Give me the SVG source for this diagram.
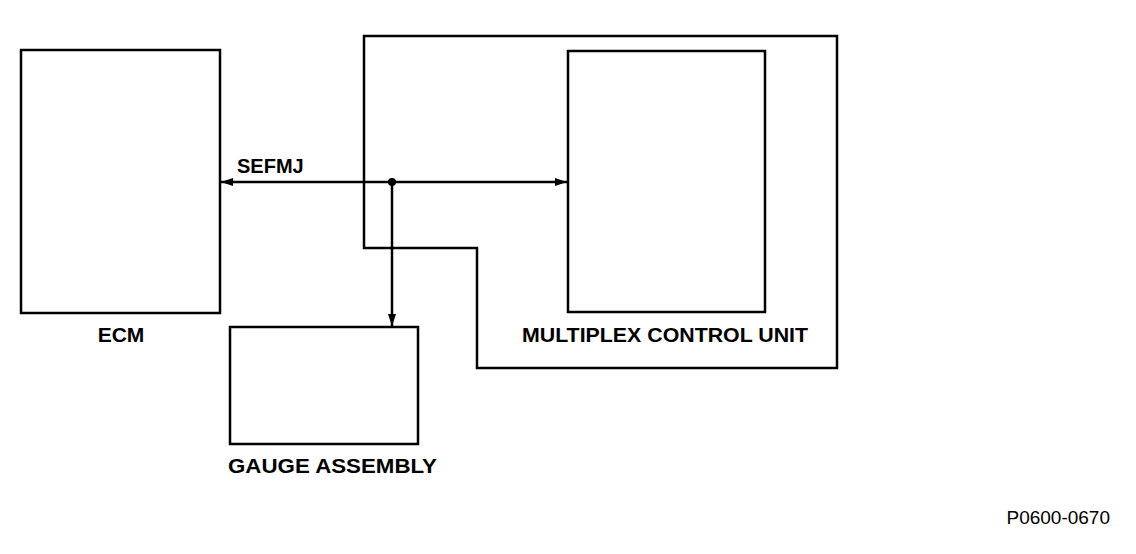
<svg xmlns="http://www.w3.org/2000/svg" width="1136" height="554" viewBox="0 0 1136 554">
<style>
.box{fill:none;stroke:#000;stroke-width:2.5}
.lbl{font-family:"Liberation Sans",Arial,sans-serif;font-weight:bold;font-size:21px;fill:#000}
.wire{fill:none;stroke:#000;stroke-width:2.5}
</style>
<defs>
<marker id="arr" viewBox="0 0 12 8" refX="12" refY="4" markerWidth="12" markerHeight="8" markerUnits="userSpaceOnUse" orient="auto-start-reverse">
<path d="M0,0 L12,4 L0,8 z" fill="#000"/>
</marker>
</defs>
<rect width="1136" height="554" fill="#fff"/>
<g id="container">
<path class="box" d="M364,36 H837 V368 H477 V248 H364 Z"/>
</g>
<g id="ecm">
<rect class="box" x="21" y="50" width="199" height="263"/>
<text class="lbl" x="121" y="342" text-anchor="middle">ECM</text>
</g>
<g id="mcu">
<rect class="box" x="568" y="51" width="197" height="261"/>
<text class="lbl" x="522" y="342" textLength="286" lengthAdjust="spacingAndGlyphs">MULTIPLEX CONTROL UNIT</text>
</g>
<g id="gauge">
<rect class="box" x="230" y="327" width="188" height="117"/>
<text class="lbl" x="228" y="473" textLength="209" lengthAdjust="spacingAndGlyphs">GAUGE ASSEMBLY</text>
</g>
<g id="connectors">
<line class="wire" x1="221" y1="182" x2="567" y2="182" marker-start="url(#arr)" marker-end="url(#arr)"/>
<line class="wire" x1="392" y1="182" x2="392" y2="326" marker-end="url(#arr)"/>
<circle cx="392" cy="182" r="4" fill="#000"/>
<text class="lbl" x="237" y="173" style="font-size:20px">SEFMJ</text>
</g>
<text x="1110" y="524" text-anchor="end" font-family="Liberation Sans, Arial, sans-serif" font-size="19" fill="#000">P0600-0670</text>
</svg>
